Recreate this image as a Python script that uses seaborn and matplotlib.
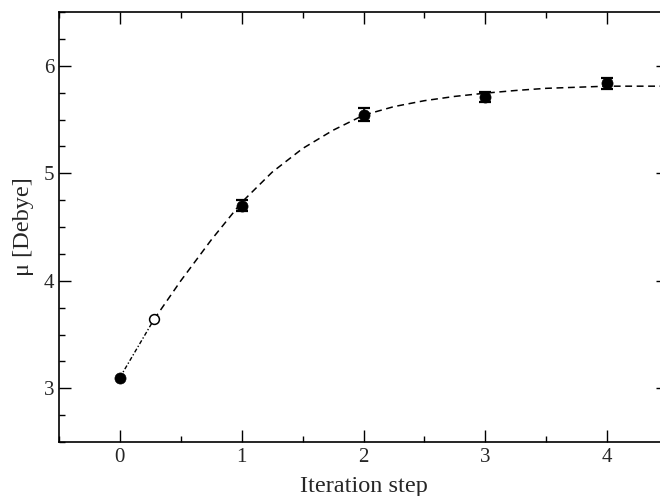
import matplotlib
matplotlib.use("Agg")
import matplotlib.pyplot as plt
import seaborn as sns
from matplotlib.ticker import MultipleLocator

# data
pts_x = [0, 1, 2, 3, 4]
pts_y = [3.10, 4.70, 5.545, 5.71, 5.835]
pts_err = [0.0, 0.055, 0.06, 0.05, 0.05]

open_x = [0.28]
open_y = [3.64]

link_x = [0.0, 0.28]
link_y = [3.10, 3.64]

curve_x = [0.28, 0.5, 0.75, 1.0, 1.25, 1.5, 1.75, 2.0, 2.25, 2.5, 2.75, 3.0, 3.25, 3.5, 3.75, 4.0, 4.25, 4.5]
curve_y = [3.64, 4.00, 4.38, 4.73, 5.01, 5.23, 5.40, 5.54, 5.62, 5.675, 5.715, 5.745, 5.77, 5.79, 5.80, 5.81, 5.81, 5.81]

sns.set_style("ticks")
plt.rcParams['font.family'] = ['Liberation Serif', 'DejaVu Serif']
plt.rcParams['mathtext.fontset'] = 'stix'

fig = plt.figure(figsize=(6.6, 4.96), dpi=100)
ax = fig.add_axes([59/660, 1 - 442/496, (668 - 59)/660, (442 - 12)/496])

sns.lineplot(x=link_x, y=link_y, ax=ax, color='black', lw=1.0, sort=False,
             estimator=None, linestyle=(0, (3, 1.5, 1, 1.5)))
sns.lineplot(x=curve_x, y=curve_y, ax=ax, color='black', lw=1.1, sort=False,
             estimator=None, linestyle=(0, (4.5, 3)))

ax.errorbar(pts_x[1:], pts_y[1:], yerr=pts_err[1:], fmt='none', ecolor='black',
            elinewidth=1.2, capsize=4.5, capthick=1.6, zorder=3)
sns.scatterplot(x=pts_x, y=pts_y, ax=ax, color='black', s=64, edgecolor='black',
                linewidth=0.5, zorder=4)
sns.scatterplot(x=open_x, y=open_y, ax=ax, color='white', s=50, edgecolor='black',
                linewidth=1.1, zorder=4)

ax.set_xlim(-0.5, 4.5)
ax.set_ylim(2.5, 6.5)
ax.xaxis.set_major_locator(MultipleLocator(1))
ax.xaxis.set_minor_locator(MultipleLocator(0.5))
ax.yaxis.set_major_locator(MultipleLocator(1))
ax.yaxis.set_minor_locator(MultipleLocator(0.25))
ax.tick_params(which='both', direction='in', top=True, right=True, width=1.0,
               labelsize=15, color='black')
ax.tick_params(which='major', length=8.5)
ax.tick_params(which='minor', length=4.5)
ax.tick_params(axis='x', which='major', pad=4.5)
ax.tick_params(axis='y', which='major', pad=3.5)
for s in ax.spines.values():
    s.set_linewidth(1.2)
    s.set_color('black')
    s.set_visible(True)

ax.set_xlabel('Iteration step', fontsize=17.5, labelpad=6)
ax.set_ylabel('μ [Debye]', fontsize=17.5, labelpad=7)

fig.savefig('out.png', dpi=100)
